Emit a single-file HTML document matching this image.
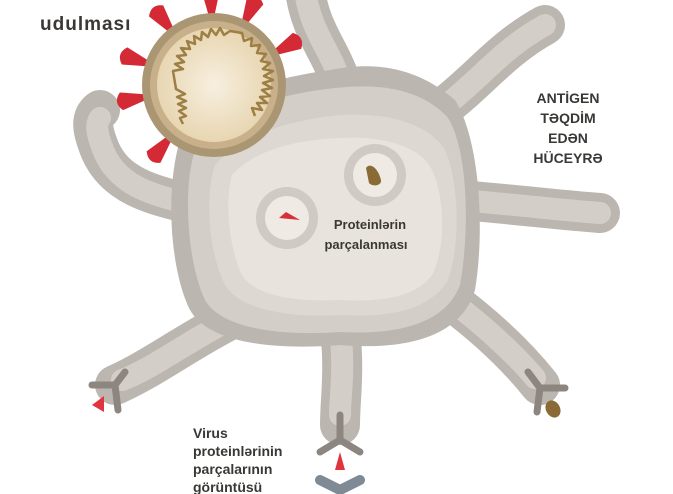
<!DOCTYPE html>
<html><head><meta charset="utf-8"><style>
html,body{margin:0;padding:0;background:#fff;width:673px;height:494px;overflow:hidden}
svg{display:block}
text{font-family:"Liberation Sans","DejaVu Sans",sans-serif;font-weight:bold;fill:#3a3835}
</style></head><body>
<svg width="673" height="494" viewBox="0 0 673 494" xmlns="http://www.w3.org/2000/svg">
<defs>
<radialGradient id="vg" cx="0.5" cy="0.5" r="0.5"><stop offset="0" stop-color="#f7efdf"/><stop offset="1" stop-color="#e8d6b2"/></radialGradient>
</defs>
<g fill="none" stroke-linecap="round" stroke-linejoin="round">
<g stroke="#bbb6af" stroke-width="40">
<path d="M305,-10 C310,30 330,50 340,80"/>
<path d="M440,110 C480,80 500,50 545,25"/>
<path d="M460,200 C520,205 560,210 600,213"/>
<path d="M450,300 C490,330 520,360 540,385"/>
<path d="M340,330 C345,370 340,400 340,425"/>
<path d="M230,320 C190,340 150,370 115,385"/>
<path d="M195,205 C150,195 115,185 100,150 C92,130 90,118 100,110"/>
</g>
<g stroke="#d3cfc8" stroke-width="22">
<path d="M305,-10 C310,30 330,50 340,80"/>
<path d="M440,110 C480,80 500,50 545,25"/>
<path d="M460,200 C520,205 560,210 600,213"/>
<path d="M450,300 C490,330 520,360 535,378"/>
<path d="M340,330 C345,370 340,395 340,415"/>
<path d="M230,320 C190,340 150,370 122,380"/>
<path d="M195,205 C150,195 118,185 104,152 C97,135 95,124 100,118"/>
</g>
</g>
<path d="M180,140 C200,100 260,80 330,70 C380,60 420,70 455,100 C480,140 485,230 475,290 C460,340 400,350 340,345 C280,350 210,345 190,310 C170,270 165,190 180,140Z" fill="#bbb6af"/>
<path d="M195,150 C215,115 270,95 335,88 C385,82 425,92 448,118 C468,150 470,230 460,285 C445,325 395,335 340,332 C285,336 222,330 205,300 C188,265 182,190 195,150Z" fill="#d3cfc8"/>
<path d="M215,165 C240,135 290,120 340,115 C390,112 430,125 445,150 C460,185 460,245 448,280 C430,310 390,318 340,315 C290,318 240,310 225,285 C208,250 205,195 215,165Z" fill="#ddd9d2"/>
<path d="M232,175 C255,150 295,140 340,138 C385,135 422,148 432,170 C446,200 445,250 432,275 C415,298 380,302 340,300 C295,302 255,296 242,275 C228,245 225,200 232,175Z" fill="#e8e4dd"/>
<circle cx="375" cy="175" r="31" fill="#cfcac3"/><circle cx="375" cy="175" r="22" fill="#efebe4"/>
<path d="M366,168 C370,162 378,168 381,180 C382,186 372,187 369,183 Z" fill="#8a6a35"/>
<circle cx="287" cy="218" r="31" fill="#cfcac3"/><circle cx="287" cy="218" r="22" fill="#efebe4"/>
<path d="M279,218 L286,212 L300,220 Z" fill="#d83039"/>
<g fill="#d42a35" transform="translate(214,85)">
<path id="sp" d="M-2.5,-68 L-9,-94 Q0,-103 9,-94 L2.5,-68Z" transform="rotate(-2)"/>
<use href="#sp" transform="rotate(-36)"/>
<use href="#sp" transform="rotate(28)"/>
<use href="#sp" transform="rotate(64)"/>
<use href="#sp" transform="rotate(-70)"/>
<use href="#sp" transform="rotate(-98)"/>
<use href="#sp" transform="rotate(-138)"/>
</g>
<circle cx="214" cy="85" r="72" fill="#ab9673"/>
<circle cx="214" cy="85" r="64" fill="#c7b08a"/>
<circle cx="214" cy="85" r="57" fill="url(#vg)"/>
<path d="M183,124 l-3,-6 l6,-2 l-7,-5 l7,-3 l-8,-4 l8,-3 l-9,-4 l8,-3 l-9,-5 l-3,-18 l10,-2 l-8,-5 l9,-2 l-7,-6 l9,-1 l-5,-7 l9,1 l-3,-8 l8,3 l-1,-8 l7,4 l1,-8 l6,5 l3,-8 l5,6 l4,-7 l4,7 l6,-4 l12,2 l2,8 l8,-3 l-1,8 l9,-1 l-3,8 l9,1 l-5,7 l9,2 l-7,6 l10,2 l-9,5 l9,4 l-10,3 l9,5 l-10,2 l8,6 l-10,1 l7,6 l-10,0 l5,7 l-10,-2 l3,8" fill="none" stroke="#9d7f45" stroke-width="2.5" stroke-linejoin="round"/>
<g fill="none" stroke="#8d8680" stroke-width="7" stroke-linecap="round" stroke-linejoin="round">
<path d="M125,372 L115,385 L92,385 M115,385 L118,410"/>
<path d="M340,415 L340,440 L320,452 M340,440 L360,452"/>
<path d="M528,372 L540,388 L565,388 M540,388 L537,412"/>
</g>
<path d="M92,405 L104,396 L104,412 Z" fill="#e0353f"/>
<path d="M340,452 L335,470 L345,470 Z" fill="#e0353f"/>
<ellipse cx="553" cy="409" rx="7" ry="9" transform="rotate(-30 553 409)" fill="#8a6a35"/>
<path d="M320,480 L340,490 L360,480" fill="none" stroke="#7f8a94" stroke-width="10" stroke-linecap="round"/>
<text x="40" y="30" font-size="19" letter-spacing="1">udulması</text>
<text x="568" y="103" font-size="14" text-anchor="middle">ANTİGEN</text>
<text x="568" y="123" font-size="14" text-anchor="middle">TƏQDİM</text>
<text x="568" y="143" font-size="14" text-anchor="middle">EDƏN</text>
<text x="568" y="163" font-size="14" text-anchor="middle">HÜCEYRƏ</text>
<text x="370" y="229" font-size="13" text-anchor="middle">Proteinlərin</text>
<text x="366" y="249" font-size="13" text-anchor="middle">parçalanması</text>
<text x="193" y="438" font-size="14">Virus</text>
<text x="193" y="456" font-size="14">proteinlərinin</text>
<text x="193" y="474" font-size="14">parçalarının</text>
<text x="193" y="492" font-size="14">görüntüsü</text>
</svg>
</body></html>
